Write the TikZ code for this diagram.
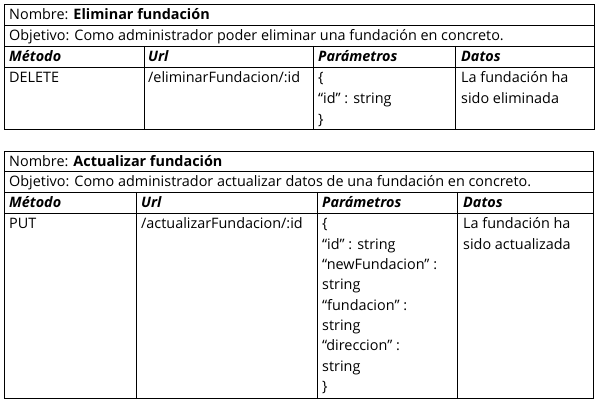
\documentclass[tikz,border=0pt]{standalone}
\usepackage{fontspec}
\setmainfont{Open Sans}
\tikzset{
  cell/.style={anchor=base west, inner sep=0pt, font=\fontsize{14.4}{17}\selectfont},
  hdr/.style={cell, font=\fontsize{14.4}{17}\selectfont\bfseries\itshape},
  grid/.style={line width=0.9pt, black}
}
\begin{document}
\begin{tikzpicture}[x=1pt,y=-1pt]
\useasboundingbox[fill=white] (0,0) rectangle (598,403);
% ---------- table 1 ----------
\draw[grid] (4,4) rectangle (594,129);
\draw[grid] (4,25) -- (594,25) (4,46) -- (594,46) (4,67) -- (594,67);
\draw[grid] (144,46) -- (144,129) (313,46) -- (313,129) (455,46) -- (455,129);
\node[cell] (nom1) at (9,20) {Nombre: \textbf{Eliminar fundación}};
\node[cell] (obj1) at (9,41) {Objetivo: Como administrador poder eliminar una fundación en concreto.};
\node[hdr] (met1) at (9,62) {Método};
\node[hdr] (url1) at (148,62) {Url};
\node[hdr] (par1) at (318,62) {Parámetros};
\node[hdr] (dat1) at (461,62) {Datos};
\node[cell] (vmet1) at (9,83) {DELETE};
\node[cell] (vurl1) at (148,83) {/eliminarFundacion/:id};
\foreach \t [count=\i] in {\{,“id” : string,\}}
  \node[cell] (vpar1-\i) at (318,{83+21*(\i-1)}) {\t};
\foreach \t [count=\i] in {La fundación ha,sido eliminada}
  \node[cell] (vdat1-\i) at (461,{83+21*(\i-1)}) {\t};
% ---------- table 2 ----------
\draw[grid] (4,151) rectangle (593,398);
\draw[grid] (4,171) -- (593,171) (4,192) -- (593,192) (4,213) -- (593,213);
\draw[grid] (136,192) -- (136,398) (317,192) -- (317,398) (457,192) -- (457,398);
\node[cell] (nom2) at (9,167) {Nombre: \textbf{Actualizar fundación}};
\node[cell] (obj2) at (9,187) {Objetivo: Como administrador actualizar datos de una fundación en concreto.};
\node[hdr] (met2) at (9,208) {Método};
\node[hdr] (url2) at (141,208) {Url};
\node[hdr] (par2) at (322,208) {Parámetros};
\node[hdr] (dat2) at (463,208) {Datos};
\node[cell] (vmet2) at (9,229) {PUT};
\node[cell] (vurl2) at (141,229) {/actualizarFundacion/:id};
\foreach \t [count=\i] in {\{,“id” : string,“newFundacion” :,string,“fundacion” :,string,“direccion” :,string,\}}
  \node[cell] (vpar2-\i) at (322,{229+20.3*(\i-1)}) {\t};
\foreach \t [count=\i] in {La fundación ha,sido actualizada}
  \node[cell] (vdat2-\i) at (463,{229+21*(\i-1)}) {\t};
\end{tikzpicture}
\end{document}
